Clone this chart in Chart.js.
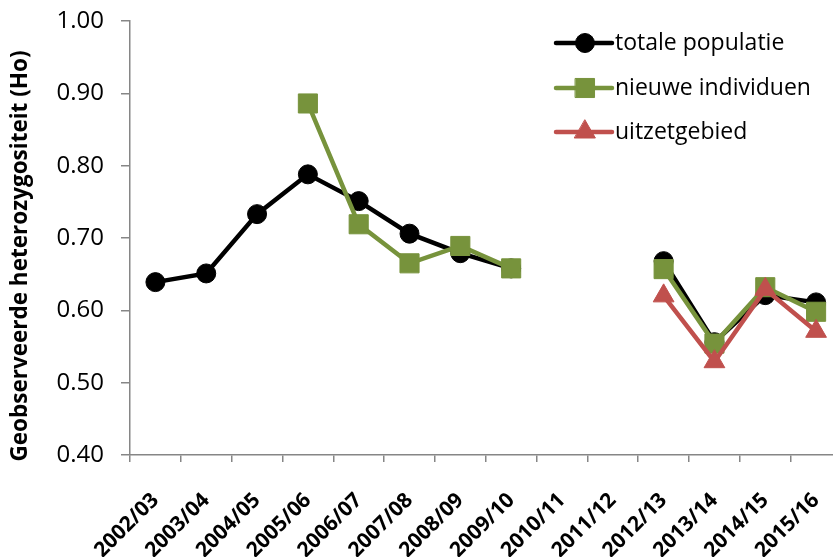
<!DOCTYPE html>
<html>
<head>
<meta charset="utf-8">
<script src="https://cdn.jsdelivr.net/npm/chart.js@4/dist/chart.umd.min.js"></script>
<style>
  html, body { margin: 0; padding: 0; background: #fff; overflow: hidden; }
  #wrap { width: 856px; height: 557px; }
</style>
</head>
<body>
<div id="wrap"><canvas id="c" width="856" height="557"></canvas></div>
<script>
// Seizoenen (x-as)
const seasons = ['2002/03','2003/04','2004/05','2005/06','2006/07','2007/08','2008/09',
                 '2009/10','2010/11','2011/12','2012/13','2013/14','2014/15','2015/16'];

// Geobserveerde heterozygositeit per groep
const totalePopulatie = [0.639, 0.651, 0.733, 0.788, 0.751, 0.706, 0.679, 0.658,
                         null, null, 0.668, 0.556, 0.621, 0.611];
const nieuweIndividuen = [null, null, null, 0.886, 0.719, 0.665, 0.689, 0.658,
                          null, null, 0.657, 0.554, 0.632, 0.598];
const uitzetgebied = [null, null, null, null, null, null, null, null,
                      null, null, 0.620, 0.529, 0.629, 0.571];

const yTicks = [0.40, 0.50, 0.60, 0.70, 0.80, 0.90, 1.00];

const seriesNames = ['totale populatie', 'nieuwe individuen', 'uitzetgebied'];
const axisTitle = 'Geobserveerde heterozygositeit (Ho)';

const BLACK = '#000000', GREEN = '#77933C', RED = '#C0504D', AXIS = '#868686';
const FONT = '"Open Sans", Lato, sans-serif';

// Legenda rechtsboven in het plotvlak: lijnstuk met marker + naam
const legendPlugin = {
  id: 'lineLegend',
  afterDraw(chart) {
    const ctx = chart.ctx;
    const rows = [43, 88, 132];
    const x0 = 556, x1 = 612, xm = 585;
    chart.data.datasets.forEach((ds, i) => {
      const y = rows[i];
      ctx.save();
      ctx.strokeStyle = ds.borderColor;
      ctx.lineWidth = ds.borderWidth;
      ctx.lineCap = 'round';
      ctx.beginPath();
      ctx.moveTo(x0, y);
      ctx.lineTo(x1, y);
      ctx.stroke();
      ctx.fillStyle = ds.pointBackgroundColor;
      ctx.strokeStyle = ds.pointBackgroundColor;
      ctx.lineWidth = 1;
      Chart.helpers.drawPoint(ctx, {
        pointStyle: ds.pointStyle,
        radius: ds.pointRadius,
        borderWidth: 1
      }, xm, y);
      ctx.fillStyle = '#000';
      ctx.font = '23px ' + FONT;
      ctx.textAlign = 'left';
      ctx.textBaseline = 'middle';
      ctx.fillText(ds.label, 615, y);
      ctx.restore();
    });
  }
};

// Titel van de y-as, verticaal
const yTitlePlugin = {
  id: 'yTitle',
  afterDraw(chart) {
    const ctx = chart.ctx;
    ctx.save();
    ctx.translate(21, 256);
    ctx.rotate(-Math.PI / 2);
    ctx.font = 'bold 22.5px ' + FONT;
    ctx.fillStyle = '#000';
    ctx.textAlign = 'center';
    ctx.textBaseline = 'middle';
    ctx.fillText(axisTitle, 0, 0);
    ctx.restore();
  }
};

function series(label, data, color, style, radius, order) {
  return {
    label, data, order,
    borderColor: color,
    backgroundColor: color,
    pointBackgroundColor: color,
    pointBorderColor: color,
    borderWidth: 4.5,
    pointStyle: style,
    pointRadius: radius,
    pointHoverRadius: radius,
    pointBorderWidth: 1,
    spanGaps: false,
    tension: 0
  };
}

new Chart(document.getElementById('c'), {
  type: 'line',
  data: {
    labels: seasons,
    datasets: [
      series(seriesNames[0], totalePopulatie, BLACK, 'circle', 9.5, 3),
      series(seriesNames[1], nieuweIndividuen, GREEN, 'rect', 13.5, 2),
      series(seriesNames[2], uitzetgebied, RED, 'triangle', 12, 1)
    ]
  },
  options: {
    responsive: false,
    animation: false,
    devicePixelRatio: 1,
    layout: { padding: { top: 21, right: 4, left: 0, bottom: 0 } },
    plugins: {
      legend: { display: false },
      tooltip: { enabled: false }
    },
    scales: {
      x: {
        type: 'category',
        offset: true,
        grid: {
          offset: true,
          drawOnChartArea: false,
          drawTicks: true,
          tickLength: 7,
          color: AXIS,
          lineWidth: 1.5
        },
        border: { color: AXIS, width: 1.5 },
        ticks: {
          autoSkip: false,
          minRotation: 45,
          maxRotation: 45,
          padding: 26,
          color: '#000',
          font: { family: FONT, size: 21, weight: 'bold' }
        },
        afterFit(scale) {
          scale.height = 102;
          scale.paddingLeft = 0;
          scale.paddingRight = 0;
        }
      },
      y: {
        min: 0.4,
        max: 1.0,
        afterBuildTicks(scale) { scale.ticks = yTicks.map(v => ({ value: v })); },
        grid: {
          drawOnChartArea: false,
          drawTicks: true,
          tickLength: 9,
          color: AXIS,
          lineWidth: 1.5
        },
        border: { color: AXIS, width: 1.5 },
        ticks: {
          padding: 17,
          color: '#000',
          font: { family: FONT, size: 24 },
          callback: v => Number(v).toFixed(2)
        },
        afterFit(scale) {
          scale.width = 130;
          scale.paddingTop = 0;
          scale.paddingBottom = 0;
        }
      }
    }
  },
  plugins: [legendPlugin, yTitlePlugin]
});
</script>
</body>
</html>
